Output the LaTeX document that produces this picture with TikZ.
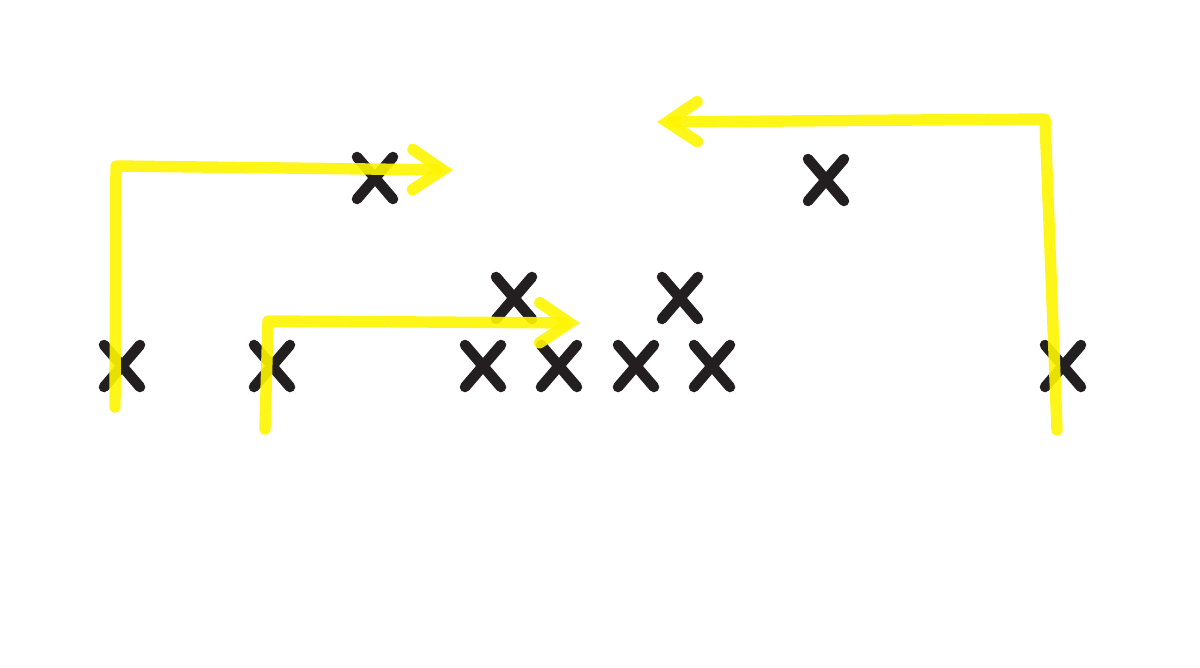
\documentclass[tikz,border=0pt]{standalone}
\usetikzlibrary{shapes.misc, arrows.meta, positioning}
\definecolor{inkx}{RGB}{35,31,32}
\definecolor{marker}{RGB}{255,245,0}
\begin{document}
\begin{tikzpicture}[x=0.02cm, y=-0.02cm, thick]

\tikzset{mark x/.style={cross out, draw=inkx, line width=6pt, line cap=round,
     minimum width=0.72cm, minimum height=0.84cm, inner sep=0pt, outer sep=0pt},
  marker path/.style={draw=marker, draw opacity=0.9, line width=6.5pt,
     line cap=round, line join=round,
     -{Straight Barb[length=0.6cm, width=0.8cm, line cap=round]}}}

  \useasboundingbox (0,0) rectangle (1200,667);

  % crosses
  \node[mark x] (a1) at (122,366) {};
  \node[mark x] (a2) at (272,366) {};
  \node[mark x] (b1) at (375,178) {};
  \node[mark x] (c1) at (514,298) {};
  \node[mark x] (c2) at (483,366) {};
  \node[mark x] (c3) at (559,366) {};
  \node[mark x] (c4) at (636,366) {};
  \node[mark x] (c5) at (712,366) {};
  \node[mark x] (c6) at (680,298) {};
  \node[mark x] (d1) at (826,180) {};
  \node[mark x] (e1) at (1063,366) {};

  % marker arrows
  \coordinate (p1) at (115,407);
  \coordinate (q1) at (116,166);
  \coordinate (r1) at (453,170);
  \coordinate (p2) at (265,429);
  \coordinate (q2) at (268,321);
  \coordinate (r2) at (580,323);
  \coordinate (p3) at (1057,430);
  \coordinate (q3) at (1045,119);
  \coordinate (r3) at (657,122);

  \draw[marker path] (p1) -- (q1) -- (r1);
  \draw[marker path] (p2) -- (q2) -- (r2);
  \draw[marker path] (p3) -- (q3) -- (r3);
\end{tikzpicture}
\end{document}
